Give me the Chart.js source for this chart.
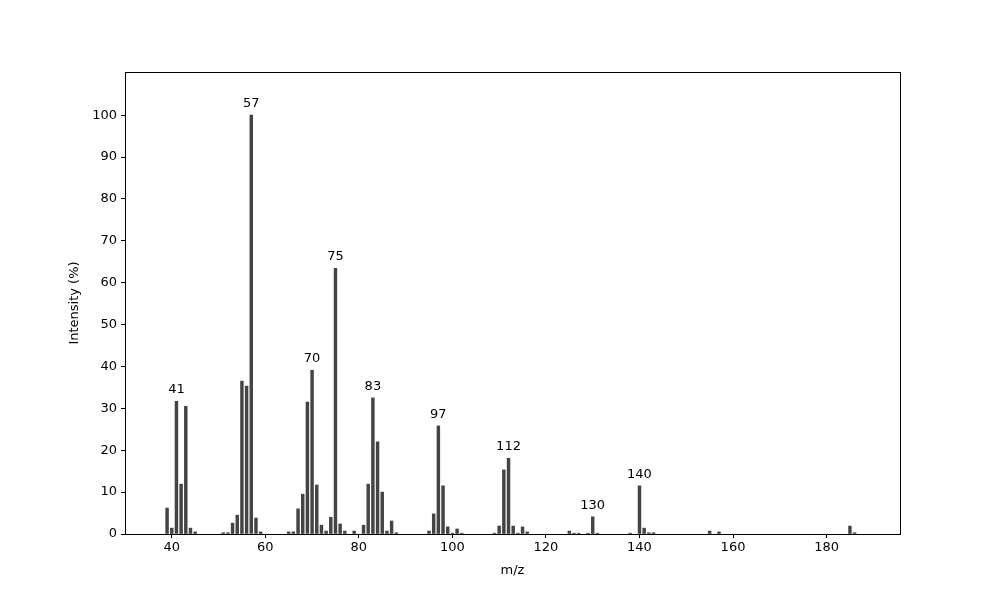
<!DOCTYPE html>
<html>
<head>
<meta charset="utf-8">
<script src="https://cdn.jsdelivr.net/npm/chart.js@4/dist/chart.umd.min.js"></script>
<style>
  html, body { margin: 0; padding: 0; background: #fff; }
  #wrap { width: 1000px; height: 600px; }
</style>
</head>
<body>
<div id="wrap"><canvas id="spec" width="1000" height="600"></canvas></div>
<script>
// m/z values and relative intensities
const mz = [
  39, 40, 41, 42, 43, 44, 45,
  51, 52, 53, 54, 55, 56, 57, 58, 59,
  65, 66, 67, 68, 69, 70, 71, 72, 73, 74, 75, 76, 77, 79,
  81, 82, 83, 84, 85, 86, 87, 88,
  95, 96, 97, 98, 99, 100, 101, 102,
  109, 110, 111, 112, 113, 114, 115, 116,
  125, 126, 127, 129, 130, 131,
  138, 140, 141, 142, 143,
  155, 157,
  185, 186
];
const intensity = [
  6.2, 1.4, 31.7, 11.9, 30.5, 1.4, 0.5,
  0.3, 0.3, 2.6, 4.5, 36.5, 35.3, 100, 3.8, 0.5,
  0.5, 0.5, 6.0, 9.5, 31.5, 39.1, 11.7, 2.1, 0.7, 4.0, 63.4, 2.4, 0.7, 0.7,
  2.1, 11.9, 32.5, 22.0, 10.0, 0.7, 3.1, 0.3,
  0.7, 4.8, 25.8, 11.5, 1.7, 0.2, 1.2, 0.2,
  0.2, 1.9, 15.3, 18.1, 1.9, 0.2, 1.7, 0.5,
  0.7, 0.2, 0.2, 0.2, 4.1, 0.2,
  0.2, 11.5, 1.4, 0.3, 0.3,
  0.7, 0.5,
  1.9, 0.3
];
// peaks that carry a text label
const labelledPeaks = [41, 57, 70, 75, 83, 97, 112, 130, 140];

const xTicks = [40, 60, 80, 100, 120, 140, 160, 180];
const yTicks = [0, 10, 20, 30, 40, 50, 60, 70, 80, 90, 100];

const FONT = "DejaVu Sans";

const frame = {
  id: "frame",
  afterDraw(chart) {
    const { ctx, chartArea: a } = chart;
    ctx.save();
    ctx.strokeStyle = "#000";
    ctx.lineWidth = 1;
    ctx.strokeRect(Math.round(a.left) + 0.5, Math.round(a.top) + 0.5,
                   Math.round(a.right - a.left), Math.round(a.bottom - a.top));
    ctx.restore();
  }
};

const peakText = {
  id: "peakText",
  afterDatasetsDraw(chart) {
    const { ctx } = chart;
    const xs = chart.scales.x, ys = chart.scales.y;
    ctx.save();
    ctx.fillStyle = "#000";
    ctx.font = `13px "${FONT}"`;
    ctx.textAlign = "center";
    ctx.textBaseline = "bottom";
    labelledPeaks.forEach((m) => {
      const i = mz.indexOf(m);
      if (i < 0) return;
      ctx.fillText(String(m), xs.getPixelForValue(m), ys.getPixelForValue(intensity[i]) - 5);
    });
    ctx.restore();
  }
};

new Chart(document.getElementById("spec"), {
  type: "bar",
  data: {
    datasets: [{
      data: mz.map((m, i) => ({ x: m, y: intensity[i] })),
      backgroundColor: "#444444",
      borderWidth: 0,
      barThickness: 2.8,
    }],
  },
  options: {
    responsive: false,
    animation: false,
    layout: { padding: { left: 0, top: 72, right: 100, bottom: 0 } },
    plugins: { legend: { display: false }, tooltip: { enabled: false } },
    scales: {
      x: {
        type: "linear",
        offset: false,
        min: 30,
        max: 195.7,
        afterBuildTicks: (s) => { s.ticks = xTicks.map((v) => ({ value: v })); },
        afterFit: (s) => { s.height = 66; },
        ticks: { color: "#000", font: { family: FONT, size: 13 }, padding: 2, maxRotation: 0, autoSkip: false },
        grid: { display: true, offset: false, drawOnChartArea: false, drawTicks: true, tickLength: 4, color: "#000" },
        border: { display: true, color: "#000" },
        title: { display: true, text: "m/z", color: "#000", font: { family: FONT, size: 13 }, padding: { bottom: 22 } },
      },
      y: {
        min: 0,
        max: 110.3,
        afterBuildTicks: (s) => { s.ticks = yTicks.map((v) => ({ value: v })); },
        afterFit: (s) => { s.width = 125; },
        ticks: { color: "#000", font: { family: FONT, size: 13 }, padding: 4, autoSkip: false },
        grid: { display: true, drawOnChartArea: false, drawTicks: true, tickLength: 4, color: "#000" },
        border: { display: true, color: "#000" },
        title: { display: true, text: "Intensity (%)", color: "#000", font: { family: FONT, size: 13 }, padding: { top: 67 } },
      },
    },
  },
  plugins: [frame, peakText],
});
</script>
</body>
</html>
